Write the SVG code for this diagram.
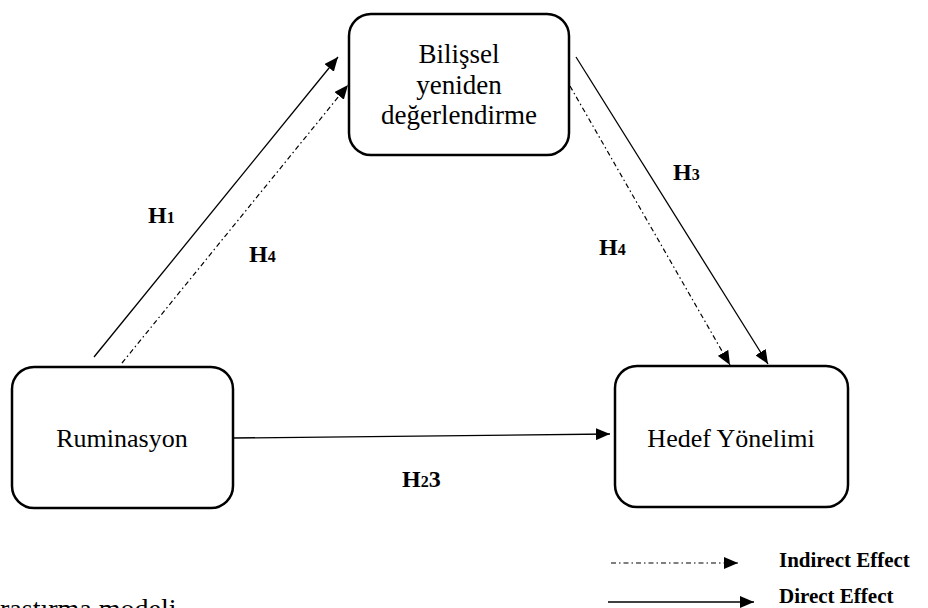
<svg xmlns="http://www.w3.org/2000/svg" width="928" height="608" viewBox="0 0 928 608">
<defs>
<marker id="ah" viewBox="0 0 14 12" refX="14" refY="6" markerWidth="14" markerHeight="12" markerUnits="userSpaceOnUse" orient="auto">
<path d="M0,0 L14,6 L0,12 Z" fill="#000"/>
</marker>
<style>
.box{fill:#fff;stroke:#000;stroke-width:2.5}
.lbl{font-family:"Liberation Serif","Times New Roman",serif;fill:#000;text-anchor:middle}
.h{font-family:"Liberation Serif","Times New Roman",serif;font-weight:bold;font-size:24px;fill:#000}
.sub{font-size:16px}
.solid{stroke:#000;stroke-width:1.3;fill:none;marker-end:url(#ah)}
.dash{stroke:#000;stroke-width:1.2;fill:none;stroke-dasharray:5 3 1.5 3;marker-end:url(#ah)}
</style>
</defs>
<rect width="928" height="608" fill="#fff"/>
<g id="connectors">
<line class="solid" x1="94" y1="357" x2="338" y2="57"/>
<line class="dash" x1="122" y1="363" x2="348" y2="85"/>
<line class="solid" x1="576" y1="57" x2="768" y2="364"/>
<line class="dash" x1="570" y1="86" x2="730" y2="365"/>
<line class="solid" x1="233" y1="438" x2="610" y2="434"/>
</g>
<g id="node-bilissel">
<rect class="box" x="349" y="14" width="220" height="141" rx="22"/>
<text class="lbl" font-family="Liberation Serif, serif" font-size="27" x="459" y="63">Bilişsel</text>
<text class="lbl" font-family="Liberation Serif, serif" font-size="27" x="459" y="94">yeniden</text>
<text class="lbl" font-family="Liberation Serif, serif" font-size="27" x="459" y="124">değerlendirme</text>
</g>
<g id="node-ruminasyon">
<rect class="box" x="12" y="367" width="221" height="141" rx="22"/>
<text class="lbl" font-family="Liberation Serif, serif" font-size="26" x="122" y="447">Ruminasyon</text>
</g>
<g id="node-hedef">
<rect class="box" x="615" y="366" width="233" height="141" rx="22"/>
<text class="lbl" font-family="Liberation Serif, serif" font-size="26" x="731" y="447">Hedef Yönelimi</text>
</g>
<g id="labels">
<text class="h" x="148" y="223">H<tspan class="sub">1</tspan></text>
<text class="h" x="249" y="262">H<tspan class="sub">4</tspan></text>
<text class="h" x="673" y="180">H<tspan class="sub">3</tspan></text>
<text class="h" x="599" y="255">H<tspan class="sub">4</tspan></text>
<text class="h" x="402" y="487">H<tspan class="sub">2</tspan>3</text>
</g>
<g id="legend">
<line class="dash" x1="611" y1="563" x2="738" y2="563"/>
<text class="h" x="779" y="567" style="font-size:21px">Indirect Effect</text>
<line class="solid" x1="608" y1="602" x2="754" y2="602"/>
<text class="h" x="779" y="603" style="font-size:21px">Direct Effect</text>
</g>
<text x="0" y="618" font-family="Liberation Serif, serif" font-size="28" fill="#000">raştırma modeli</text>
</svg>
